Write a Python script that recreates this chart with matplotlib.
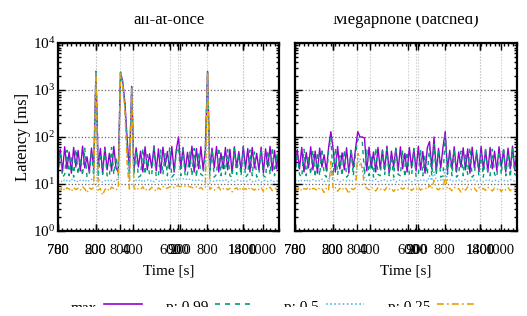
import numpy as np
import matplotlib
matplotlib.use('Agg')
import matplotlib.pyplot as plt
from matplotlib.ticker import FixedLocator, FixedFormatter, MultipleLocator, LogLocator, NullFormatter
from matplotlib.lines import Line2D
from matplotlib.transforms import Bbox

plt.rcParams['font.family'] = ['Liberation Serif', 'DejaVu Serif']
plt.rcParams['mathtext.fontset'] = 'custom'
plt.rcParams['mathtext.rm'] = 'Liberation Serif'

# sampled time axis [s] (100 samples per run)
time = np.linspace(0, 1000, 100)

# all-at-once
left_max = [20, 55, 18, 62, 21, 48, 17, 60, 23, 52,
            19, 64, 22, 38, 18, 58, 21, 2500, 24, 57,
            17, 61, 20, 45, 19, 63, 22, 18, 2400, 1500,
            520, 85, 21, 1200, 19, 59, 23, 50, 18, 62,
            20, 44, 22, 65, 19, 56, 17, 61, 24, 49,
            21, 63, 18, 54, 100, 22, 60, 19, 47, 23,
            64, 18, 57, 21, 62, 20, 51, 2500, 19, 58,
            22, 63, 18, 46, 21, 60, 20, 55, 17, 62,
            23, 49, 19, 64, 21, 57, 18, 60, 22, 45,
            20, 61, 17, 56, 23, 63, 19, 52, 21, 58]
left_p99 = [15, 48, 14, 16, 52, 15, 40, 14, 55, 16,
            35, 15, 58, 14, 16, 50, 15, 2450, 14, 45,
            16, 54, 15, 14, 60, 16, 38, 15, 2350, 1400,
            450, 60, 15, 1150, 16, 52, 14, 15, 57, 16,
            42, 15, 16, 58, 14, 15, 53, 16, 44, 15,
            59, 14, 16, 48, 60, 15, 55, 14, 16, 50,
            15, 57, 14, 46, 16, 15, 52, 2450, 15, 56,
            14, 16, 59, 15, 43, 16, 54, 15, 14, 58,
            16, 40, 15, 61, 14, 16, 53, 15, 48, 14,
            16, 57, 15, 14, 51, 16, 60, 15, 45, 16]
left_p50 = [11.5, 12.0, 11.0, 12.5, 11.8, 11.2, 12.8, 11.5, 12.2, 11.0,
            12.0, 11.6, 12.4, 11.1, 11.9, 12.6, 11.3, 2400, 11.8, 12.2,
            11.0, 11.7, 12.3, 11.4, 12.0, 11.2, 12.5, 11.6, 2300, 1300,
            400, 40, 11.9, 1100, 11.3, 12.1, 11.6, 12.4, 11.0, 11.8,
            12.3, 11.5, 12.0, 11.2, 12.6, 11.7, 11.1, 12.2, 11.9, 12.5,
            11.4, 12.8, 12.0, 12.4, 13.0, 12.6, 12.9, 12.2, 13.1, 12.5,
            12.0, 12.4, 11.6, 12.1, 11.5, 11.9, 11.3, 2400, 11.7, 12.0,
            11.2, 11.8, 12.2, 11.4, 11.9, 12.5, 11.0, 11.6, 12.1, 11.3,
            11.8, 12.3, 11.5, 12.0, 11.1, 11.7, 12.4, 11.2, 11.9, 11.4,
            12.1, 11.0, 11.6, 12.2, 11.3, 11.8, 12.0, 11.1, 11.5, 11.9]
left_p25 = [8.0, 7.5, 8.6, 7.2, 8.3, 7.8, 6.9, 8.4, 7.6, 8.1,
            7.3, 8.7, 7.9, 6.5, 8.2, 7.7, 8.5, 2350, 7.4, 8.0,
            5.8, 7.6, 8.3, 7.1, 8.6, 7.9, 7.4, 8.2, 2250, 1200,
            350, 25, 7.8, 1050, 8.4, 7.3, 8.0, 7.6, 8.7, 7.2,
            8.1, 7.5, 8.5, 7.8, 7.0, 8.3, 7.6, 8.8, 7.9, 8.2,
            8.6, 9.1, 8.4, 9.3, 9.0, 8.8, 9.4, 9.0, 9.2, 8.7,
            8.5, 8.1, 8.7, 7.9, 8.4, 7.6, 8.2, 2350, 7.7, 8.3,
            7.4, 8.0, 8.6, 7.2, 7.9, 8.4, 7.5, 8.1, 6.8, 7.8,
            8.3, 7.1, 8.5, 7.7, 8.0, 7.3, 8.6, 7.9, 7.4, 8.2,
            7.6, 8.4, 7.0, 8.1, 7.7, 8.5, 7.2, 7.9, 8.3, 7.5]

# Megaphone (batched)
right_max = [19, 54, 21, 60, 18, 47, 22, 62, 20, 50,
             17, 58, 23, 42, 19, 61, 130, 55, 18, 63,
             21, 46, 20, 59, 17, 52, 22, 57, 130, 100,
             100, 95, 19, 61, 22, 48, 18, 60, 21, 53,
             20, 64, 17, 50, 23, 58, 19, 62, 21, 45,
             18, 60, 22, 55, 19, 63, 20, 49, 17, 59,
             80, 21, 100, 18, 57, 22, 61, 130, 19, 52,
             21, 62, 18, 48, 23, 59, 20, 56, 17, 61,
             22, 47, 19, 63, 20, 54, 18, 60, 21, 50,
             19, 62, 23, 53, 18, 58, 21, 64, 20, 55]
right_p99 = [15, 45, 16, 14, 55, 15, 38, 16, 52, 14,
             47, 15, 56, 16, 14, 50, 95, 15, 58, 16,
             40, 15, 53, 14, 16, 57, 15, 44, 90, 85,
             80, 16, 55, 15, 42, 14, 58, 16, 15, 50,
             16, 56, 15, 39, 14, 60, 16, 15, 52, 14,
             48, 16, 15, 57, 14, 16, 54, 15, 41, 16,
             60, 15, 70, 16, 53, 14, 15, 110, 16, 46,
             15, 57, 14, 16, 50, 15, 43, 16, 59, 14,
             16, 52, 15, 45, 14, 58, 16, 15, 55, 16,
             14, 49, 16, 60, 15, 44, 14, 56, 16, 15]
right_p50 = [11.8, 12.3, 11.2, 12.0, 11.6, 12.5, 11.1, 11.9, 12.4, 11.4,
             12.1, 11.7, 12.6, 11.3, 12.0, 11.5, 20.0, 12.2, 11.6, 12.3,
             11.2, 11.9, 12.4, 11.5, 12.1, 11.3, 11.8, 12.5, 35.0, 25.0,
             22.0, 14.0, 11.7, 12.2, 11.4, 11.9, 12.6, 11.2, 12.0, 11.6,
             12.3, 11.5, 12.0, 11.8, 12.4, 11.1, 11.7, 12.2, 11.5, 12.0,
             11.6, 12.3, 11.2, 11.9, 12.5, 11.4, 12.1, 11.7, 12.4, 11.3,
             15.0, 11.8, 18.0, 12.0, 11.5, 12.2, 11.7, 22.0, 11.9, 12.4,
             11.3, 12.0, 11.6, 12.3, 11.1, 11.8, 12.5, 11.4, 12.1, 11.7,
             12.2, 11.5, 11.9, 12.4, 11.2, 12.0, 11.6, 12.3, 11.4, 11.8,
             12.1, 11.3, 12.5, 11.7, 12.0, 11.5, 12.2, 11.9, 11.4, 12.0]
right_p25 = [8.2, 7.6, 8.5, 7.1, 8.0, 7.7, 8.6, 7.3, 8.1, 7.8,
             7.2, 8.4, 7.9, 6.6, 8.3, 7.5, 30.0, 7.8, 8.4, 7.0,
             8.1, 7.4, 8.6, 7.7, 6.2, 8.0, 7.6, 8.3, 45.0, 35.0,
             20.0, 9.0, 8.2, 7.5, 8.5, 7.9, 7.1, 8.4, 7.6, 8.1,
             7.3, 8.6, 7.8, 8.2, 6.9, 8.0, 7.5, 8.4, 7.7, 8.3,
             7.9, 8.5, 7.2, 8.1, 7.6, 8.7, 7.4, 8.0, 8.3, 7.7,
             9.5, 7.8, 12.0, 8.2, 7.5, 8.4, 7.9, 15.0, 7.6, 8.1,
             7.2, 8.5, 7.8, 8.0, 6.7, 8.3, 7.4, 8.6, 7.9, 7.5,
             8.2, 7.0, 8.4, 7.7, 8.1, 7.3, 8.5, 7.8, 7.1, 8.2,
             7.6, 8.3, 6.9, 8.0, 7.5, 8.4, 7.2, 8.1, 7.7, 8.0]

titles = ['all-at-once', 'Megaphone (batched)']
series_labels = ['max', 'p: 0.99', 'p: 0.5', 'p: 0.25']
colors = ['#9400d3', '#009e73', '#56b4e9', '#e69f00']
styles = ['-', (0, (3, 3)), (0, (1, 1.5)), (0, (4, 2, 1, 2))]

# the overlapping tick labels of the original
xtick_pos = [0, 0, 170, 170, 280, 338, 508, 545, 552, 675, 835, 835, 926]
xtick_lab = ['700', '780', '200', '800', '800', '400', '600', '900', '200',
             '800', '1400', '1800', '1000']

W, H = 527, 316
fig = plt.figure(figsize=(W / 100, H / 100), dpi=100)
ax1 = fig.add_axes([58 / W, 1 - 231 / H, 221 / W, 188 / H])
ax2 = fig.add_axes([295 / W, 1 - 231 / H, 222 / W, 188 / H])

runs = [(left_max, left_p99, left_p50, left_p25),
        (right_max, right_p99, right_p50, right_p25)]

title_clip = Bbox([[0, 0], [W, H - 15.5]])

for i, (ax, data) in enumerate(zip([ax1, ax2], runs)):
    for vals, c, ls in zip(data, colors, styles):
        ax.plot(time, vals, color=c, ls=ls, lw=1.0)
    ax.set_yscale('log')
    ax.set_ylim(1, 1e4)
    ax.set_xlim(0, 1000)
    ax.xaxis.set_major_locator(FixedLocator(xtick_pos))
    ax.xaxis.set_major_formatter(FixedFormatter(xtick_lab))
    ax.xaxis.set_minor_locator(MultipleLocator(20))
    ax.yaxis.set_major_locator(LogLocator(base=10, numticks=10))
    ax.yaxis.set_minor_locator(LogLocator(base=10, subs=np.arange(2, 10), numticks=10))
    ax.yaxis.set_minor_formatter(NullFormatter())
    ax.tick_params(which='both', direction='in', top=True, right=True, width=1)
    ax.tick_params(which='major', length=5)
    ax.tick_params(which='minor', length=2.5)
    ax.tick_params(axis='x', labelsize=10.5, pad=9)
    ax.tick_params(axis='y', labelsize=11, pad=2)
    ax.grid(axis='x', which='major', color='#c4c4c4', ls=':', lw=0.8)
    ax.grid(axis='y', which='major', color='#666666', ls=':', lw=0.9)
    for s in ax.spines.values():
        s.set_linewidth(1.6)
    ax.set_xlabel('Time [s]', fontsize=11, labelpad=6)
    t = ax.set_title(titles[i], fontsize=12, pad=14)
    t.set_clip_box(title_clip)
    t.set_clip_on(True)
    if i == 1:
        ax.tick_params(axis='y', labelleft=False)

ax1.set_ylabel('Latency [ms]', fontsize=12, labelpad=1)

# legend row along the bottom, cut off like in the original
leg_clip = Bbox([[0, H - 306.5], [W, H]])
for i, (lab, c, ls) in enumerate(zip(series_labels, colors, styles)):
    x0 = 104 + 111 * i
    txt = fig.text((x0 - 7) / W, 1 - 311.5 / H, lab, ha='right', va='baseline', fontsize=11)
    txt.set_clip_box(leg_clip)
    txt.set_clip_on(True)
    ln = Line2D([x0 / W, (x0 + 38) / W], [1 - 304 / H, 1 - 304 / H],
                transform=fig.transFigure, color=c, ls=ls, lw=1.2)
    fig.add_artist(ln)

fig.savefig('out.png', dpi=100)
